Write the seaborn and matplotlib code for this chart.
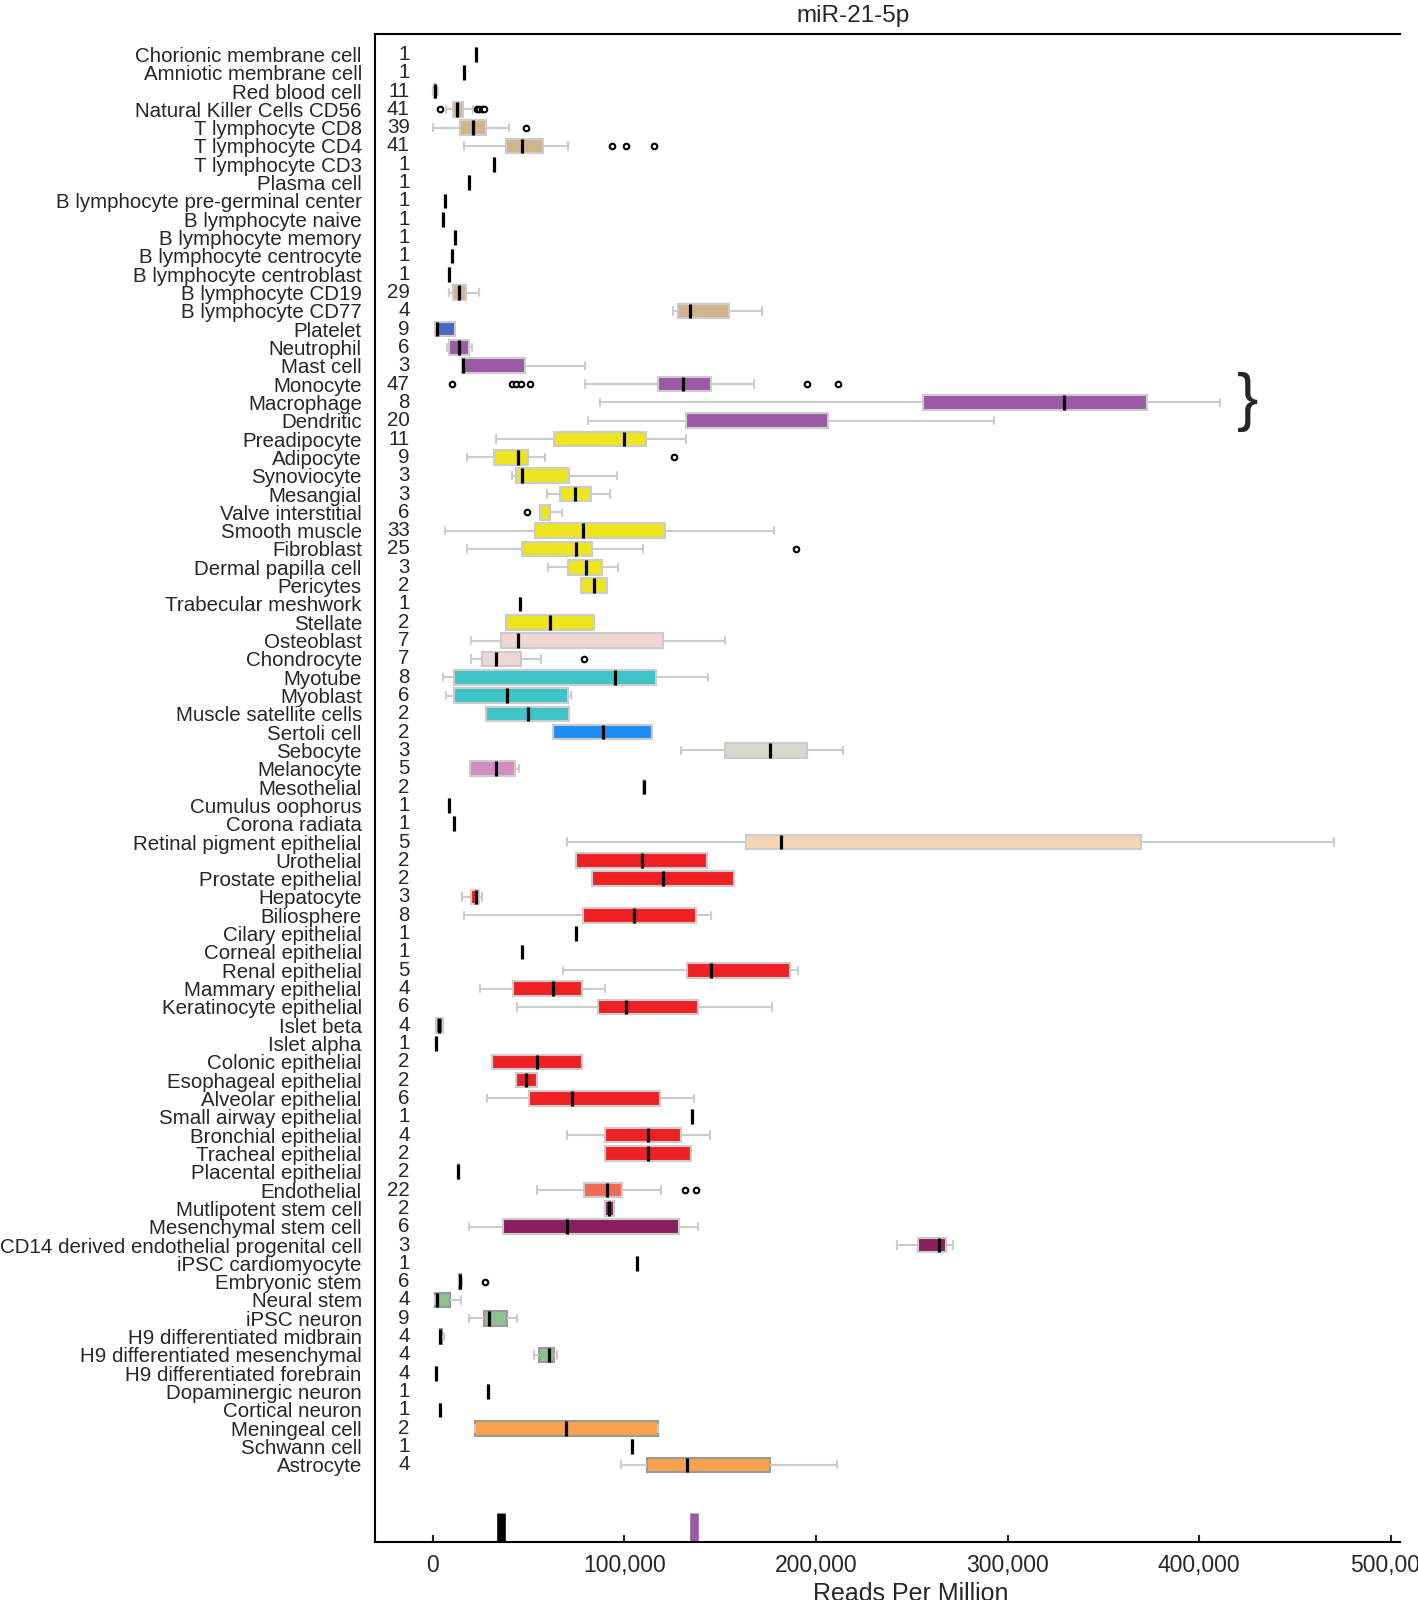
import numpy as np
import pandas as pd
import matplotlib
matplotlib.use("Agg")
import matplotlib.pyplot as plt
from matplotlib.colors import to_rgba
from matplotlib.ticker import FuncFormatter
import seaborn as sns

# ─────────────────────────────────────────────────────────────────
# Data (reads per million in thousands)
# ─────────────────────────────────────────────────────────────────

cell_types = [
    "Chorionic membrane cell", "Amniotic membrane cell", "Red blood cell",
    "Natural Killer Cells CD56", "T lymphocyte CD8", "T lymphocyte CD4",
    "T lymphocyte CD3", "Plasma cell", "B lymphocyte pre-germinal center",
    "B lymphocyte naive", "B lymphocyte memory", "B lymphocyte centrocyte",
    "B lymphocyte centroblast", "B lymphocyte CD19", "B lymphocyte CD77",
    "Platelet", "Neutrophil", "Mast cell", "Monocyte", "Macrophage", "Dendritic",
    "Preadipocyte", "Adipocyte", "Synoviocyte", "Mesangial", "Valve interstitial",
    "Smooth muscle", "Fibroblast", "Dermal papilla cell", "Pericytes",
    "Trabecular meshwork", "Stellate",
    "Osteoblast", "Chondrocyte", "Myotube", "Myoblast", "Muscle satellite cells",
    "Sertoli cell", "Sebocyte", "Melanocyte", "Mesothelial", "Cumulus oophorus",
    "Corona radiata", "Retinal pigment epithelial",
    "Urothelial", "Prostate epithelial", "Hepatocyte", "Biliosphere",
    "Cilary epithelial", "Corneal epithelial", "Renal epithelial",
    "Mammary epithelial", "Keratinocyte epithelial", "Islet beta", "Islet alpha",
    "Colonic epithelial", "Esophageal epithelial", "Alveolar epithelial",
    "Small airway epithelial", "Bronchial epithelial", "Tracheal epithelial",
    "Placental epithelial",
    "Endothelial", "Mutlipotent stem cell", "Mesenchymal stem cell",
    "CD14 derived endothelial progenital cell", "iPSC cardiomyocyte",
    "Embryonic stem", "Neural stem", "iPSC neuron", "H9 differentiated midbrain",
    "H9 differentiated mesenchymal", "H9 differentiated forebrain",
    "Dopaminergic neuron", "Cortical neuron", "Meningeal cell", "Schwann cell",
    "Astrocyte",
]

n_samples = [
    1, 1, 11, 41, 39, 41, 1, 1, 1, 1, 1, 1, 1, 29, 4,
    9, 6, 3, 47, 8, 20,
    11, 9, 3, 3, 6, 33, 25, 3, 2, 1, 2,
    7, 7, 8, 6, 2, 2, 3, 5, 2, 1, 1, 5,
    2, 2, 3, 8, 1, 1, 5, 4, 6, 4, 1, 2, 2, 6, 1, 4, 2, 2,
    22, 2, 6, 3, 1, 6, 4, 9, 4, 4, 4, 1, 1, 2, 1, 4,
]

cell_group = (
    ["lymphoid"] * 15
    + ["platelet"] + ["myeloid"] * 5
    + ["stromal"] * 11
    + ["skeletal"] * 2 + ["muscle"] * 3
    + ["sertoli", "sebocyte", "melanocyte", "mesothelial", "oocyte", "oocyte", "rpe"]
    + ["epithelial"] * 18
    + ["endothelial"] + ["stem"] * 3 + ["cardiac"] + ["neural"] * 8 + ["glial"] * 3
)

whisker_lo_k = [
    22.9, 16.6, 0.3, 6.9, 0.0, 16.6, 32.3, 18.9, 6.7, 5.6, 11.6, 10.0, 8.4, 8.4, 125.3,
    1.3, 7.7, 15.1, 79.6, 87.3, 81.3,
    33.1, 17.8, 41.5, 59.5, 56.3, 6.5, 17.8, 60.4, 77.4, 45.4, 38.2,
    20.2, 20.2, 5.6, 7.0, 27.7, 63.0, 129.8, 19.7, 109.7, 8.5, 11.0, 70.0,
    75.0, 83.2, 15.3, 16.5, 75.0, 46.8, 68.1, 24.8, 43.8, 1.9, 1.7, 30.8, 43.4, 28.3, 135.6, 70.0, 89.8, 13.3,
    54.5, 90.0, 19.2, 242.2, 106.9, 13.6, 1.5, 18.8, 3.9, 52.8, 1.7, 29.1, 4.0, 22.3, 104.2, 98.4,
]
q1_k = [
    22.9, 16.6, 0.6, 10.5, 14.3, 38.3, 32.3, 18.9, 6.7, 5.6, 11.6, 10.0, 8.4, 10.9, 127.9,
    1.3, 8.5, 15.1, 117.8, 255.9, 132.2,
    63.4, 31.9, 43.6, 66.4, 56.3, 53.2, 46.9, 70.5, 77.4, 45.4, 38.2,
    35.5, 26.0, 11.4, 11.4, 27.7, 63.0, 152.4, 19.7, 109.7, 8.5, 11.0, 163.6,
    75.0, 83.2, 20.0, 78.6, 75.0, 46.8, 132.9, 42.1, 86.3, 1.9, 1.7, 30.8, 43.4, 50.2, 135.6, 89.8, 89.8, 13.3,
    79.0, 90.0, 37.0, 253.4, 106.9, 14.0, 1.5, 26.7, 3.9, 55.6, 1.8, 29.1, 4.0, 22.3, 104.2, 111.8,
]
median_k = [
    22.9, 16.6, 1.3, 12.8, 21.0, 46.5, 32.3, 18.9, 6.7, 5.6, 11.6, 10.0, 8.4, 14.0, 134.3,
    2.2, 13.6, 16.0, 130.4, 329.3, 170.0,
    99.9, 44.5, 46.9, 74.4, 58.5, 78.6, 75.0, 79.8, 84.3, 45.4, 61.2,
    44.4, 33.1, 95.2, 39.0, 49.6, 88.9, 175.8, 33.1, 110.2, 8.5, 11.0, 181.6,
    109.0, 120.1, 22.9, 105.1, 75.0, 46.8, 145.5, 62.8, 100.7, 3.5, 1.7, 54.5, 48.7, 72.9, 135.6, 112.5, 112.5, 13.5,
    91.0, 92.2, 70.0, 264.3, 106.9, 14.5, 2.1, 29.7, 4.0, 60.7, 1.9, 29.1, 4.0, 69.7, 104.2, 132.9,
]
q3_k = [
    22.9, 16.6, 2.0, 16.1, 27.7, 57.5, 32.3, 18.9, 6.7, 5.6, 11.6, 10.0, 8.4, 17.5, 154.5,
    11.7, 19.0, 48.4, 145.4, 372.9, 206.5,
    111.3, 49.6, 71.4, 82.5, 61.5, 121.4, 83.4, 88.5, 90.9, 45.4, 84.3,
    120.3, 45.9, 116.4, 70.4, 71.2, 114.7, 195.1, 43.1, 110.7, 8.5, 11.0, 369.5,
    143.2, 157.4, 24.4, 137.2, 75.0, 46.8, 186.3, 78.2, 138.4, 5.4, 1.7, 78.2, 54.3, 118.5, 135.6, 129.4, 134.7, 13.7,
    98.6, 94.5, 128.6, 267.6, 106.9, 15.0, 9.3, 39.0, 5.0, 63.2, 2.0, 29.1, 4.0, 117.4, 104.2, 175.8,
]
whisker_hi_k = [
    22.9, 16.6, 2.6, 21.3, 40.0, 70.8, 32.3, 18.9, 6.7, 5.6, 11.6, 10.0, 8.4, 24.4, 172.0,
    11.7, 20.8, 79.6, 167.6, 411.0, 293.0,
    132.2, 58.6, 96.0, 92.4, 67.4, 178.0, 109.8, 96.6, 90.9, 45.4, 84.3,
    152.7, 56.8, 143.8, 72.0, 71.2, 114.7, 214.2, 45.0, 110.7, 8.5, 11.0, 470.4,
    143.2, 157.4, 26.0, 145.3, 75.0, 46.8, 190.9, 90.0, 177.3, 5.4, 1.7, 78.2, 54.3, 136.6, 135.6, 144.6, 134.7, 13.7,
    119.2, 94.5, 138.4, 271.7, 106.9, 15.3, 14.9, 43.8, 5.9, 65.0, 2.1, 29.1, 4.0, 117.4, 104.2, 210.9,
]

# medians not drawn in the reference
median_hidden = ["Dendritic", "Valve interstitial"]

outlier_cells = (
    ["Natural Killer Cells CD56"] * 5 + ["T lymphocyte CD8"] + ["T lymphocyte CD4"] * 3
    + ["Monocyte"] * 7 + ["Adipocyte", "Valve interstitial", "Fibroblast", "Chondrocyte"]
    + ["Endothelial"] * 2 + ["Embryonic stem"]
)
outlier_k = [
    3.9, 23.0, 24.3, 25.6, 27.0, 48.8, 93.5, 101.0, 115.5,
    10.3, 41.5, 43.6, 46.0, 51.0, 195.1, 211.5,
    126.2, 49.1, 189.7, 78.8,
    131.7, 137.2, 27.5,
]

rug_k = [35.6, 136.3]
rug_series = ["reference", "highlight"]

group_palette = {
    "lymphoid": "#D2B48C", "platelet": "#4A68C2", "myeloid": "#9B59A6",
    "stromal": "#EDE51E", "skeletal": "#EED6D3", "muscle": "#3EC3C6",
    "sertoli": "#1E8CF8", "sebocyte": "#D6D9CE", "melanocyte": "#D18CC1",
    "mesothelial": "#E6E6E6", "oocyte": "#D2B48C", "rpe": "#F4D5B2",
    "epithelial": "#EE2024", "endothelial": "#EE6C55", "stem": "#8A1F5E",
    "cardiac": "#EE2024", "neural": "#8DC28D", "glial": "#F9A24E",
}
rug_palette = {"reference": "black", "highlight": "#9B59A6"}


def build_long_frame() -> pd.DataFrame:
    """Five summary points per cell type -> long frame for sns.boxplot."""
    rows = []
    stats = zip(whisker_lo_k, q1_k, median_k, q3_k, whisker_hi_k)
    for cell, grp, vals in zip(cell_types, cell_group, stats):
        for v in vals:
            rows.append({"cell": cell, "group": grp, "rpm": v * 1000})
    return pd.DataFrame(rows)


# ─────────────────────────────────────────────────────────────────
# Plot
# ─────────────────────────────────────────────────────────────────

sns.set_style("ticks")
plt.rcParams["font.family"] = ["Liberation Sans", "DejaVu Sans"]

fig = plt.figure(figsize=(14.18, 16), dpi=100)
ax = fig.add_axes([0.2645, 0.0364, 0.7228, 0.9423])

df = build_long_frame()
sns.boxplot(
    data=df, x="rpm", y="cell", hue="group", palette=group_palette,
    order=cell_types, dodge=False, legend=False, whis=(0, 100),
    width=0.8, saturation=1, linecolor="#cccccc", linewidth=1.5,
    showfliers=False, medianprops={"color": "black", "linewidth": 2.3},
    ax=ax,
)

sns.stripplot(
    x=[v * 1000 for v in outlier_k], y=outlier_cells, order=cell_types,
    jitter=False, color="white", edgecolor="black", linewidth=1.5, size=4,
    ax=ax,
)

sns.rugplot(
    x=[v * 1000 for v in rug_k], hue=rug_series, palette=rug_palette,
    height=0.019, linewidth=6.2, expand_margins=False, legend=False, ax=ax,
)

# darker outline on the glial / neural boxes, as in the original
dark_fc = [to_rgba(group_palette["glial"]), to_rgba(group_palette["neural"])]
for p in ax.patches:
    fc = p.get_facecolor()
    if any(np.allclose(fc, c, atol=0.01) for c in dark_fc):
        p.set_edgecolor("#9a9a9a")

hidden_pos = {cell_types.index(c) for c in median_hidden}
for ln in ax.lines:
    yd = np.asarray(ln.get_ydata(), dtype=float)
    xd = np.asarray(ln.get_xdata(), dtype=float)
    if len(yd) == 2 and np.allclose(to_rgba(ln.get_color()), (0, 0, 0, 1)) and xd[0] == xd[1]:
        if int(round(yd.mean())) in hidden_pos:
            ln.set_visible(False)

# sample counts
for i, n in enumerate(n_samples):
    ax.text(-12000, i, str(n), ha="right", va="center", fontsize=14.8)

# brace next to the macrophage group
ax.text(425000, cell_types.index("Macrophage"), "}", ha="center", va="center",
        fontsize=46)

ax.set_xlim(-30000, 504700)
ax.set_ylim(81.2, -1.11)
ax.set_xticks([0, 100000, 200000, 300000, 400000, 500000])
ax.xaxis.set_major_formatter(FuncFormatter(lambda v, _: f"{int(v):,}"))
ax.tick_params(axis="x", direction="in", length=5, width=1.5, labelsize=16.5, pad=9)
ax.tick_params(axis="y", length=0, pad=9.5, labelsize=14.8)
ax.set_ylabel("")
ax.set_xlabel("Reads Per Million", fontsize=18)
ax.xaxis.set_label_coords(0.523, -0.027)
ax.set_title("miR-21-5p", fontsize=17.5, x=0.466, pad=9)

for side in ("left", "bottom", "top"):
    ax.spines[side].set_visible(True)
    ax.spines[side].set_linewidth(1.5)
    ax.spines[side].set_color("black")
ax.spines["right"].set_visible(False)

fig.savefig("out.png", dpi=100)
